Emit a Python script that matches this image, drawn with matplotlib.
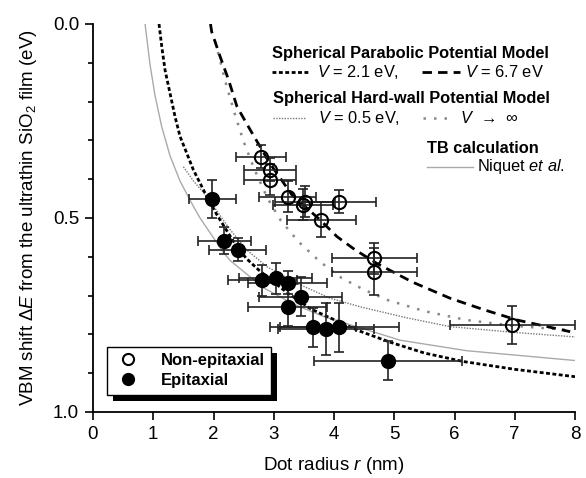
import numpy as np
import matplotlib.pyplot as plt
from matplotlib.lines import Line2D
from matplotlib.patches import Rectangle

plt.rcParams['font.family'] = ['Liberation Sans', 'DejaVu Sans']
plt.rcParams['mathtext.fontset'] = 'custom'
plt.rcParams['mathtext.rm'] = 'Liberation Sans'
plt.rcParams['mathtext.it'] = 'Liberation Sans:italic'
plt.rcParams['mathtext.bf'] = 'Liberation Sans:bold'

# measured points: non-epitaxial dots (open circles)
r_open = [2.79, 2.94, 2.94, 3.23, 3.52, 3.49, 4.09, 3.79, 4.67, 4.67, 6.96]
E_open = [0.342, 0.375, 0.402, 0.445, 0.458, 0.466, 0.458, 0.505, 0.604, 0.638, 0.776]
xerr_open = [0.41, 0.43, 0.43, 0.47, 0.50, 0.50, 0.61, 0.57, 0.70, 0.70, 1.04]
yerr_open = [0.03, 0.03, 0.04, 0.04, 0.04, 0.04, 0.03, 0.045, 0.04, 0.06, 0.05]

# measured points: epitaxial dots (filled circles)
r_epi = [1.98, 2.18, 2.40, 2.81, 3.03, 3.23, 3.45, 3.23, 3.65, 3.87, 4.09, 4.90]
E_epi = [0.451, 0.558, 0.582, 0.660, 0.655, 0.667, 0.703, 0.729, 0.782, 0.786, 0.782, 0.868]
xerr_epi = [0.39, 0.44, 0.47, 0.57, 0.60, 0.65, 0.69, 0.65, 0.72, 0.80, 0.99, 1.23]
yerr_epi = [0.05, 0.035, 0.03, 0.04, 0.04, 0.03, 0.05, 0.05, 0.05, 0.068, 0.063, 0.05]

# model curves
r_par21 = [1.096, 1.141, 1.196, 1.279, 1.362, 1.445, 1.556, 1.666, 1.806, 1.889, 2.05,
           2.39, 2.55, 2.75, 3.2, 3.6, 3.83, 4.4, 4.93, 5.5, 6.15, 7.0, 8.0]
E_par21 = [0.0, 0.058, 0.119, 0.179, 0.239, 0.29, 0.333, 0.376, 0.419, 0.445, 0.49,
           0.575, 0.605, 0.634, 0.69, 0.733, 0.75, 0.79, 0.82, 0.848, 0.87, 0.89, 0.909]

r_par67 = [1.95, 1.97, 2.11, 2.25, 2.39, 2.61, 2.94, 3.3, 3.77, 4.05, 4.35, 4.71,
           5.3, 5.93, 6.5, 7.04, 7.92]
E_par67 = [0.0, 0.02, 0.084, 0.144, 0.213, 0.273, 0.36, 0.44, 0.505, 0.548, 0.582, 0.617,
           0.665, 0.707, 0.737, 0.763, 0.793]

r_hw05 = [1.5, 1.67, 1.89, 2.28, 2.55, 2.89, 3.38, 3.94, 4.44, 5.2, 5.93, 7.0, 8.05]
E_hw05 = [0.368, 0.405, 0.445, 0.531, 0.582, 0.626, 0.668, 0.707, 0.729, 0.757, 0.78, 0.795, 0.807]

r_hwinf = [2.03, 2.2, 2.35, 2.5, 2.64, 2.72, 2.9, 3.11, 3.41, 3.77, 4.13, 4.5, 4.88,
           5.5, 6.2, 7.0, 7.92]
E_hwinf = [0.046, 0.15, 0.23, 0.303, 0.359, 0.389, 0.45, 0.505, 0.561, 0.613, 0.655, 0.685,
           0.711, 0.74, 0.763, 0.778, 0.789]

r_tb = [0.864, 0.947, 1.03, 1.141, 1.279, 1.445, 1.666, 1.777, 2.16, 2.28, 2.83, 3.33,
        3.83, 5.1, 6.2, 8.05]
E_tb = [0.0, 0.105, 0.185, 0.265, 0.34, 0.405, 0.47, 0.50, 0.588, 0.61, 0.68, 0.722,
        0.754, 0.815, 0.842, 0.868]

x_ticks = [0, 1, 2, 3, 4, 5, 6, 7, 8]
y_ticks = [0.0, 0.5, 1.0]

sty_par21 = dict(color='black', lw=2.0, ls=(0, (1.4, 0.9)))
sty_par67 = dict(color='black', lw=2.0, ls=(0, (3.4, 2.2)))
sty_hw05 = dict(color='#777777', lw=1.0, ls=(0, (1, 1)))
sty_hwinf = dict(color='#888888', lw=1.8, ls=(0, (1, 3.2)))
sty_tb = dict(color='#aaaaaa', lw=1.0, ls='-')

fig = plt.figure(figsize=(5.86, 4.78), dpi=100)
ax = fig.add_axes([93 / 586, 1 - 412 / 478, 482 / 586, 388 / 478])

ax.plot(r_tb, E_tb, **sty_tb, zorder=1)
ax.plot(r_hw05, E_hw05, **sty_hw05, zorder=1)
ax.plot(r_hwinf, E_hwinf, **sty_hwinf, zorder=1)
ax.plot(r_par21, E_par21, **sty_par21, zorder=1)
ax.plot(r_par67, E_par67, **sty_par67, zorder=1)

eb_kw = dict(fmt='none', ecolor='#222222', elinewidth=1.2, capsize=3.5, capthick=1.2, zorder=3)
ax.errorbar(r_open, E_open, xerr=xerr_open, yerr=yerr_open, **eb_kw)
ax.errorbar(r_epi, E_epi, xerr=xerr_epi, yerr=yerr_epi, **eb_kw)
ax.plot(r_open, E_open, 'o', ms=9.5, mfc='none', mec='black', mew=1.5, zorder=4)
ax.plot(r_epi, E_epi, 'o', ms=9.5, mfc='black', mec='black', mew=1.5, zorder=4)

ax.set_xlim(0, 8)
ax.set_ylim(1.0, 0.0)
ax.set_xticks(x_ticks)
ax.set_yticks(y_ticks)
ax.set_yticks(np.arange(0, 1.01, 0.1), minor=True)
ax.yaxis.set_major_formatter(plt.FormatStrFormatter('%.1f'))
ax.tick_params(axis='both', which='major', direction='out', length=6, width=1.2,
               labelsize=13.5, pad=4)
ax.tick_params(axis='y', which='minor', direction='out', length=3.5, width=1.2)
for s in ['top', 'right']:
    ax.spines[s].set_visible(False)
for s in ['left', 'bottom']:
    ax.spines[s].set_linewidth(1.3)

ax.set_xlabel(r'Dot radius $\it{r}$ (nm)', fontsize=13.5, labelpad=9)
ax.set_ylabel(r'VBM shift $\Delta\it{E}$ from the ultrathin SiO$_2$ film (eV)',
              fontsize=13.5, labelpad=10)

# text legend for the model curves (top right)
T = ax.transAxes
fs = 11.8
ax.text(0.371, 0.924, 'Spherical Parabolic Potential Model', transform=T,
        fontsize=fs, fontweight='bold', va='center')
ax.add_line(Line2D([0.371, 0.450], [0.877, 0.877], transform=T, **sty_par21))
ax.text(0.464, 0.877, r'$\it{V}$ = 2.1 eV,', transform=T, fontsize=fs, va='center')
ax.add_line(Line2D([0.682, 0.761], [0.877, 0.877], transform=T, **sty_par67))
ax.text(0.772, 0.877, r'$\it{V}$ = 6.7 eV', transform=T, fontsize=fs, va='center')

ax.text(0.373, 0.807, 'Spherical Hard-wall Potential Model', transform=T,
        fontsize=fs, fontweight='bold', va='center')
ax.add_line(Line2D([0.373, 0.44], [0.757, 0.757], transform=T, **sty_hw05))
ax.text(0.467, 0.757, r'$\it{V}$ = 0.5 eV,', transform=T, fontsize=fs, va='center')
ax.add_line(Line2D([0.685, 0.744], [0.757, 0.757], transform=T, **sty_hwinf))
ax.text(0.761, 0.757, r'$\it{V}$  →  ∞', transform=T, fontsize=fs, va='center')

ax.text(0.692, 0.680, 'TB calculation', transform=T, fontsize=fs, fontweight='bold',
        va='center')
ax.add_line(Line2D([0.692, 0.788], [0.632, 0.632], transform=T, **sty_tb))
ax.text(0.796, 0.632, r'Niquet $\it{et\ al.}$', transform=T, fontsize=fs, va='center')

# marker legend with hard shadow
h_open = Line2D([], [], ls='none', marker='o', ms=8, mfc='white', mec='black', mew=1.5)
h_epi = Line2D([], [], ls='none', marker='o', ms=8, mfc='black', mec='black', mew=1.5)
leg = ax.legend([h_open, h_epi], ['Non-epitaxial', 'Epitaxial'], loc='lower left',
                bbox_to_anchor=(0.03, 0.044), borderaxespad=0, fancybox=False,
                framealpha=1, edgecolor='black', prop={'size': 12, 'weight': 'bold'},
                handletextpad=1.1, handlelength=1.7, labelspacing=0.3, borderpad=0.4)
leg.get_frame().set_linewidth(1.0)
leg.set_zorder(6)

fig.canvas.draw()
bb = leg.get_window_extent().transformed(ax.transAxes.inverted())
dx = 6 / 482
dy = 6 / 388
ax.add_patch(Rectangle((bb.x0 + dx, bb.y0 - dy), bb.width, bb.height, transform=T,
                       facecolor='black', edgecolor='none', zorder=5, clip_on=False))

fig.savefig('out.png', dpi=100)
